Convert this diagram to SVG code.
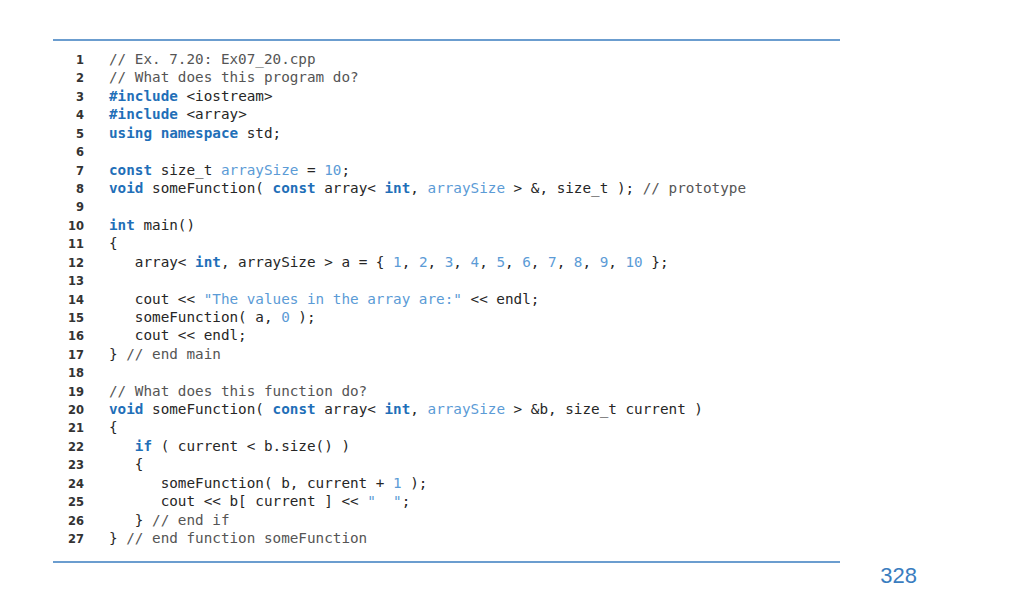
<svg xmlns="http://www.w3.org/2000/svg" width="1024" height="597" viewBox="0 0 1024 597">
<style>
.c{font-family:"DejaVu Sans Mono",monospace;font-size:14.3px;fill:#262626;white-space:pre}
.n{font-family:"DejaVu Sans",sans-serif;font-size:11.5px;font-weight:bold;fill:#333;text-anchor:end}
.k{fill:#1f6fb8;font-weight:bold}
.l{fill:#5b9bd6}
.m{fill:#555}
.r{stroke:#3a7dbf;stroke-width:1.5}
</style>
<rect width="1024" height="597" fill="#fff"/>
<line class="r" x1="53" y1="40" x2="840" y2="40"/>
<line class="r" x1="53" y1="562" x2="840" y2="562"/>
<g id="nums">
<text class="n" x="84" y="64">1</text><text class="n" x="84" y="82.4">2</text><text class="n" x="84" y="100.8">3</text><text class="n" x="84" y="119.3">4</text><text class="n" x="84" y="137.7">5</text><text class="n" x="84" y="156.1">6</text><text class="n" x="84" y="174.5">7</text><text class="n" x="84" y="192.9">8</text><text class="n" x="84" y="211.4">9</text><text class="n" x="84" y="229.8">10</text><text class="n" x="84" y="248.2">11</text><text class="n" x="84" y="266.6">12</text><text class="n" x="84" y="285">13</text><text class="n" x="84" y="303.5">14</text><text class="n" x="84" y="321.9">15</text><text class="n" x="84" y="340.3">16</text><text class="n" x="84" y="358.7">17</text><text class="n" x="84" y="377.1">18</text><text class="n" x="84" y="395.6">19</text><text class="n" x="84" y="414">20</text><text class="n" x="84" y="432.4">21</text><text class="n" x="84" y="450.8">22</text><text class="n" x="84" y="469.2">23</text><text class="n" x="84" y="487.7">24</text><text class="n" x="84" y="506.1">25</text><text class="n" x="84" y="524.5">26</text><text class="n" x="84" y="542.9">27</text>
</g>
<g id="code" xml:space="preserve">
<text class="c" x="109" y="64"><tspan class="m">// Ex. 7.20: Ex07_20.cpp</tspan></text>
<text class="c" x="109" y="82.4"><tspan class="m">// What does this program do?</tspan></text>
<text class="c" x="109" y="100.8"><tspan class="k">#include</tspan> &lt;iostream&gt;</text>
<text class="c" x="109" y="119.3"><tspan class="k">#include</tspan> &lt;array&gt;</text>
<text class="c" x="109" y="137.7"><tspan class="k">using namespace</tspan> std;</text>
<text class="c" x="109" y="174.5"><tspan class="k">const</tspan> size_t <tspan class="l">arraySize</tspan> = <tspan class="l">10</tspan>;</text>
<text class="c" x="109" y="192.9"><tspan class="k">void</tspan> someFunction( <tspan class="k">const</tspan> array&lt; <tspan class="k">int</tspan>, <tspan class="l">arraySize</tspan> &gt; &amp;, size_t ); <tspan class="m">// prototype</tspan></text>
<text class="c" x="109" y="229.8"><tspan class="k">int</tspan> main()</text>
<text class="c" x="109" y="248.2">{</text>
<text class="c" x="109" y="266.6">   array&lt; <tspan class="k">int</tspan>, arraySize &gt; a = { <tspan class="l">1</tspan>, <tspan class="l">2</tspan>, <tspan class="l">3</tspan>, <tspan class="l">4</tspan>, <tspan class="l">5</tspan>, <tspan class="l">6</tspan>, <tspan class="l">7</tspan>, <tspan class="l">8</tspan>, <tspan class="l">9</tspan>, <tspan class="l">10</tspan> };</text>
<text class="c" x="109" y="303.5">   cout &lt;&lt; <tspan class="l">"The values in the array are:"</tspan> &lt;&lt; endl;</text>
<text class="c" x="109" y="321.9">   someFunction( a, <tspan class="l">0</tspan> );</text>
<text class="c" x="109" y="340.3">   cout &lt;&lt; endl;</text>
<text class="c" x="109" y="358.7">} <tspan class="m">// end main</tspan></text>
<text class="c" x="109" y="395.6"><tspan class="m">// What does this function do?</tspan></text>
<text class="c" x="109" y="414"><tspan class="k">void</tspan> someFunction( <tspan class="k">const</tspan> array&lt; <tspan class="k">int</tspan>, <tspan class="l">arraySize</tspan> &gt; &amp;b, size_t current )</text>
<text class="c" x="109" y="432.4">{</text>
<text class="c" x="109" y="450.8">   <tspan class="k">if</tspan> ( current &lt; b.size() )</text>
<text class="c" x="109" y="469.2">   {</text>
<text class="c" x="109" y="487.7">      someFunction( b, current + <tspan class="l">1</tspan> );</text>
<text class="c" x="109" y="506.1">      cout &lt;&lt; b[ current ] &lt;&lt; <tspan class="l">"  "</tspan>;</text>
<text class="c" x="109" y="524.5">   } <tspan class="m">// end if</tspan></text>
<text class="c" x="109" y="542.9">} <tspan class="m">// end function someFunction</tspan></text>
</g>
<text x="917" y="583" font-family="Liberation Sans, sans-serif" font-size="22" fill="#3a7dbf" text-anchor="end">328</text>
</svg>
